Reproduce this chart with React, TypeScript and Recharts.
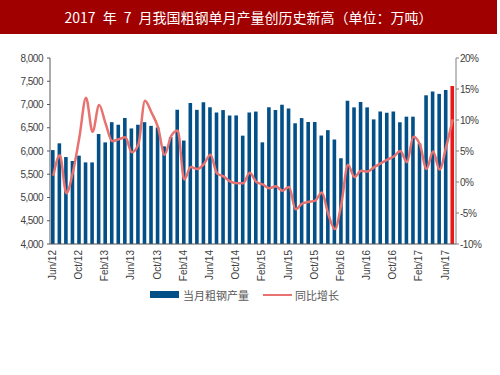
import { ComposedChart, Bar, Line, XAxis, YAxis, Cell } from "recharts";

// Month labels, Jun/12 .. Jul/17
const months = [
  "Jun/12", "Jul/12", "Aug/12", "Sep/12", "Oct/12", "Nov/12", "Dec/12",
  "Jan/13", "Feb/13", "Mar/13", "Apr/13", "May/13", "Jun/13", "Jul/13", "Aug/13", "Sep/13", "Oct/13", "Nov/13", "Dec/13",
  "Jan/14", "Feb/14", "Mar/14", "Apr/14", "May/14", "Jun/14", "Jul/14", "Aug/14", "Sep/14", "Oct/14", "Nov/14", "Dec/14",
  "Jan/15", "Feb/15", "Mar/15", "Apr/15", "May/15", "Jun/15", "Jul/15", "Aug/15", "Sep/15", "Oct/15", "Nov/15", "Dec/15",
  "Jan/16", "Feb/16", "Mar/16", "Apr/16", "May/16", "Jun/16", "Jul/16", "Aug/16", "Sep/16", "Oct/16", "Nov/16", "Dec/16",
  "Jan/17", "Feb/17", "Mar/17", "Apr/17", "May/17", "Jun/17", "Jul/17",
];

// 当月粗钢产量 (万吨)
const output = [
  6020, 6165, 5870, 5785, 5900, 5755, 5755,
  6365, 6185, 6620, 6565, 6710, 6485, 6565, 6620, 6540, 6505, 6100, 6300,
  6885, 6225, 7030, 6885, 7050, 6940, 6826, 6880, 6765, 6765, 6330, 6826,
  6848, 6186, 6940, 6880, 6995, 6913, 6596, 6708, 6624, 6624, 6333, 6448,
  6247, 5844, 7080, 6938, 7053, 6938, 6680, 6848, 6822, 6848, 6618, 6738,
  6738, 6162, 7198, 7282, 7228, 7310, 7400,
];

// 同比增长 (%)
const yoy = [
  1.0, 4.3, -1.8, 1.6, 7.3, 13.6, 8.1,
  12.4, 9.4, 6.6, 6.9, 7.2, 4.8, 6.1, 13.1, 11.2, 8.8, 4.4, 7.4,
  8.3, 0.4, 2.4, 2.1, 2.9, 4.4, 1.4, 0.9, 0.1, -0.2, -0.2, 1.5,
  0.0, -0.4, -1.0, -0.7, -1.4, -0.8, -4.4, -3.5, -3.2, -3.0, -1.7, -5.2,
  -7.6, -3.5, 2.8, 0.8, 1.8, 1.7, 2.4, 3.0, 3.6, 4.1, 5.0, 3.2,
  7.3, 6.0, 2.1, 4.9, 2.0, 5.7, 10.1,
];

const leftTicks = [4000, 4500, 5000, 5500, 6000, 6500, 7000, 7500, 8000];
const rightTicks = [-10, -5, 0, 5, 10, 15, 20];

const data = months.map((m, i) => ({ month: m, output: output[i], yoy: yoy[i] }));

const BLUE = "#034f88";
const RED = "#e8191b";
const LINE = "#e8726f";
const AXIS = "#7f7f7f";
const FONT = "'Liberation Sans', Arial, sans-serif";
const CJK = "'Noto Sans CJK SC', sans-serif";

function MonthTick({ x, y, payload }: any) {
  return (
    <text
      x={x - 1}
      y={y}
      transform={`rotate(-90, ${x - 1}, ${y})`}
      textAnchor="end"
      dominantBaseline="central"
      fontSize={10}
      fontFamily={FONT}
      fill="#404040"
    >
      {payload.value}
    </text>
  );
}

const tickStyle = { fontSize: 10, fontFamily: FONT, fill: "#404040", letterSpacing: -0.5 };

export default function App() {
  return (
    <div style={{ position: "absolute", left: 0, top: 0, width: 500, height: 375, background: "#fff" }}>
      <ComposedChart width={500} height={375} data={data} margin={{ top: 58, right: 0, bottom: 0, left: 0 }}>
        <XAxis
          dataKey="month"
          height={131}
          interval={3}
          tickLine={false}
          tickSize={0}
          tickMargin={6}
          tick={<MonthTick />}
          axisLine={{ stroke: "#595959" }}
        />
        <YAxis
          yAxisId="left"
          width={50}
          domain={[4000, 8000]}
          ticks={leftTicks}
          tickFormatter={(v: number) => v.toLocaleString("en-US")}
          tickSize={3}
          tickMargin={4}
          tick={tickStyle}
          axisLine={{ stroke: "#595959" }}
          tickLine={{ stroke: "#595959" }}
          allowDataOverflow
        />
        <YAxis
          yAxisId="right"
          orientation="right"
          width={44}
          domain={[-10, 20]}
          ticks={rightTicks}
          tickFormatter={(v: number) => `${v}%`}
          tickSize={3}
          tickMargin={1}
          tick={{ ...tickStyle, textAnchor: "start" }}
          axisLine={{ stroke: AXIS }}
          tickLine={{ stroke: AXIS }}
        />
        <Bar yAxisId="left" dataKey="output" barSize={3.6} fill={BLUE} isAnimationActive={false}>
          {data.map((d, i) => (
            <Cell key={d.month} fill={i === data.length - 1 ? RED : BLUE} />
          ))}
        </Bar>
        <Line
          yAxisId="right"
          type="monotone"
          dataKey="yoy"
          stroke={LINE}
          strokeWidth={2.5}
          dot={false}
          isAnimationActive={false}
        />
      </ComposedChart>

      {/* title bar */}
      <div
        style={{
          position: "absolute",
          left: 0,
          top: 0,
          width: 497,
          height: 34,
          background: "#a00000",
          color: "#fff",
          fontFamily: CJK,
          fontSize: 14,
          lineHeight: "34px",
          textAlign: "center",
        }}
      >
        2017{"\u2002"}年{"\u2002"}7{"\u2002"}月我国粗钢单月产量创历史新高（单位：万吨）
      </div>

      {/* legend */}
      <div style={{ position: "absolute", left: 150, top: 291, width: 29, height: 7, background: BLUE }} />
      <div
        style={{ position: "absolute", left: 183, top: 286, fontFamily: CJK, fontSize: 11, lineHeight: "18px", color: "#595959" }}
      >
        当月粗钢产量
      </div>
      <div style={{ position: "absolute", left: 263, top: 294, width: 29, height: 2, background: LINE }} />
      <div
        style={{ position: "absolute", left: 295, top: 286, fontFamily: CJK, fontSize: 11, lineHeight: "18px", color: "#595959" }}
      >
        同比增长
      </div>
    </div>
  );
}
